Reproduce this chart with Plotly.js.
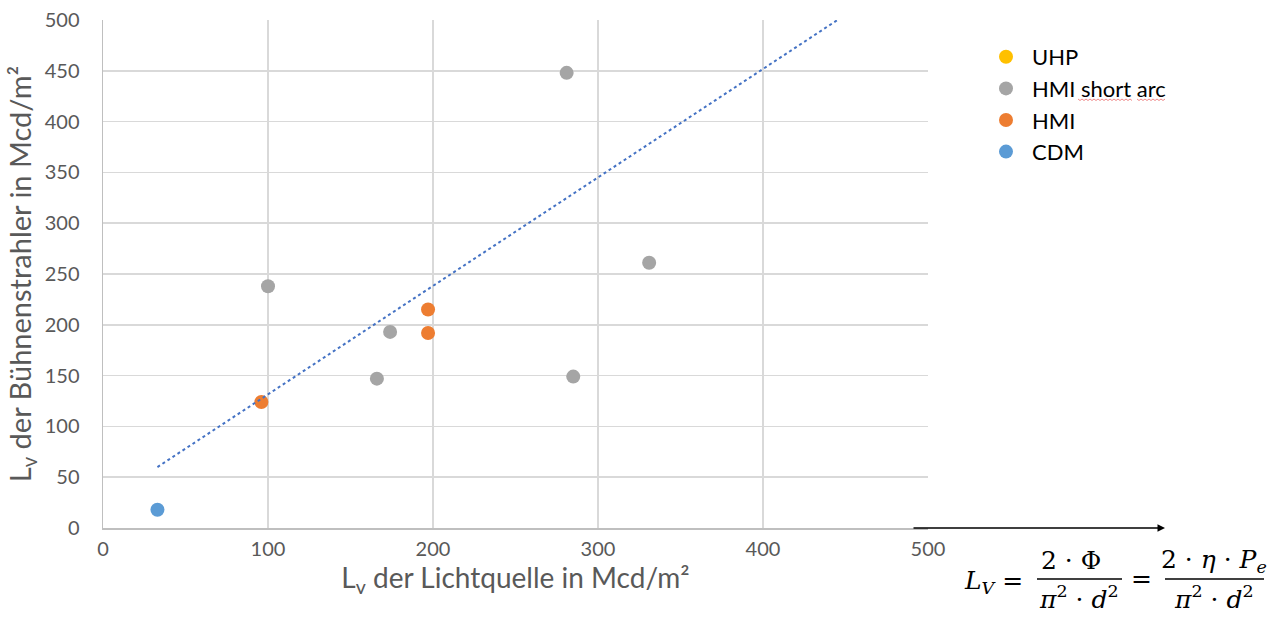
<!DOCTYPE html>
<html>
<head>
<meta charset="utf-8">
<script src="https://cdn.plot.ly/plotly-3.0.1.min.js"></script>
<style>html,body{margin:0;padding:0;background:#fff;}#chart{width:1280px;height:617px;}</style>
</head>
<body>
<div id="chart"></div>
<script>
// ---- data ----
const seriesNames = ["UHP", "HMI short arc", "HMI", "CDM"];
const uhpX = [];
const uhpY = [];
const hmiShortX = [100, 166, 174, 281, 285, 331];
const hmiShortY = [238, 147, 193, 448, 149, 261];
const hmiX = [96, 197, 197];
const hmiY = [124, 215, 192];
const cdmX = [33];
const cdmY = [18];
const trendX = [33, 447];
const trendY = [60, 502];
const xTicks = [0, 100, 200, 300, 400, 500];
const yTicks = [0, 50, 100, 150, 200, 250, 300, 350, 400, 450, 500];

// ---- layout helpers (pixel -> paper) ----
const L = 103, R = 928, T = 20, B = 528;
const px = x => (x - L) / (R - L);
const py = y => (B - y) / (B - T);

const colors = ["#FFC000", "#A5A5A5", "#ED7D31", "#5B9BD5"];
const xs = [uhpX, hmiShortX, hmiX, cdmX];
const ys = [uhpY, hmiShortY, hmiY, cdmY];

const traces = seriesNames.map((n, i) => ({
  type: "scatter", mode: "markers", name: n,
  x: xs[i].length ? xs[i] : [null], y: ys[i].length ? ys[i] : [null],
  legendgroup: "g" + i,
  marker: {color: colors[i], size: 14}
}));
traces.push({
  type: "scatter", mode: "lines", x: trendX, y: trendY, showlegend: false,
  line: {color: "#4472C4", width: 2, dash: "dot"}, hoverinfo: "skip"
});

const mathFont = {family: "DejaVu Serif, Liberation Serif, serif", size: 25, color: "#000"};
const ann = (x, y, text, anchor) => ({
  xref: "paper", yref: "paper", x: px(x), y: py(y), text: text,
  showarrow: false, xanchor: anchor || "center", yanchor: "middle", font: mathFont
});

// spell-check squiggle under "short arc" in the legend
function squiggle(x0, x1, y) {
  let d = "M" + px(x0) + "," + py(y);
  let k = 0;
  for (let x = x0 + 2; x <= x1; x += 2, k++) {
    d += " L" + px(x) + "," + py(y + (k % 2 ? 0 : 1.5));
  }
  return {type: "path", xref: "paper", yref: "paper", path: d, line: {color: "#f08a8a", width: 1}};
}

const layout = {
  width: 1280, height: 617,
  margin: {l: L, r: 1280 - R, t: T, b: 617 - B},
  paper_bgcolor: "#fff", plot_bgcolor: "#fff",
  font: {family: "Lato, Carlito, sans-serif", color: "#595959"},
  showlegend: true,
  legend: {
    x: px(980), y: py(36), xanchor: "left", yanchor: "top",
    font: {size: 22, color: "#000"}, tracegroupgap: 0, traceorder: "normal",
    itemwidth: 42,
    bgcolor: "rgba(0,0,0,0)"
  },
  xaxis: {
    range: [0, 500], tickvals: xTicks, ticktext: xTicks.map(String),
    showgrid: true, gridcolor: "#d9d9d9", gridwidth: 1.5,
    showline: true, linecolor: "#bfbfbf", linewidth: 1.5,
    zeroline: false, ticks: "", tickfont: {size: 20, color: "#595959"},
    ticklabelstandoff: 2,
    title: {text: "L<sub>v</sub> der Lichtquelle in Mcd/m²", font: {size: 28, color: "#595959"}, standoff: 10}
  },
  yaxis: {
    range: [0, 500], tickvals: yTicks, ticktext: yTicks.map(String),
    showgrid: true, gridcolor: "#d9d9d9", gridwidth: 1.5,
    showline: true, linecolor: "#bfbfbf", linewidth: 1.5,
    zeroline: false, ticks: "", tickfont: {size: 20, color: "#595959"},
    ticklabelstandoff: 18,
    title: {text: "L<sub>v</sub> der Bühnenstrahler in Mcd/m²", font: {size: 29, color: "#595959"}, standoff: 4}
  },
  shapes: [
    {type: "line", xref: "paper", yref: "paper", x0: px(1037), x1: px(1122), y0: py(579), y1: py(579), line: {color: "#000", width: 1.5}},
    {type: "line", xref: "paper", yref: "paper", x0: px(1165), x1: px(1264), y0: py(579), y1: py(579), line: {color: "#000", width: 1.5}},
    squiggle(1078, 1132, 99),
    squiggle(1137, 1165, 99)
  ],
  annotations: [
    {xref: "paper", yref: "paper", x: px(1165), y: py(528), ax: -253, ay: 0, axref: "pixel", ayref: "pixel",
     text: "", showarrow: true, arrowhead: 2, arrowsize: 1, arrowwidth: 1.5, arrowcolor: "#000"},
    ann(962, 582, "<i>L</i><sub><i>V</i></sub> =", "left"),
    ann(1071, 561, "2 · Φ"),
    ann(1079, 597, "<i>π</i><sup>2</sup> · <i>d</i><sup>2</sup>"),
    ann(1141, 578, "="),
    ann(1214, 561, "2 · <i>η</i> · <i>P</i><sub><i>e</i></sub>"),
    ann(1214, 597, "<i>π</i><sup>2</sup> · <i>d</i><sup>2</sup>")
  ]
};

Plotly.newPlot("chart", traces, layout, {displayModeBar: false, staticPlot: true});
</script>
</body>
</html>
